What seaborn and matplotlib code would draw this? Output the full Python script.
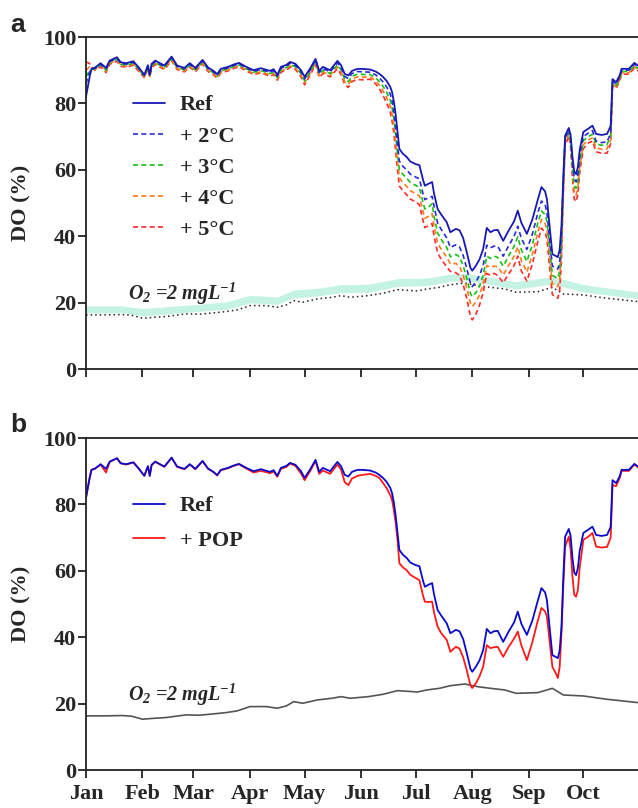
import matplotlib
matplotlib.use("Agg")
import matplotlib.pyplot as plt
import seaborn as sns
import pandas as pd

# day of year (0 = 1 Jan)
days = [0, 2, 3, 5, 8, 11, 13, 17, 19, 22,
        26, 29, 32, 34, 35, 36, 38, 43, 47, 50,
        54, 57, 60, 64, 67, 70, 72, 74, 78, 81,
        84, 88, 92, 96, 101, 103, 105, 107, 110, 112,
        115, 118, 120, 123, 126, 128, 130, 134, 138, 140,
        142, 144, 146, 149, 152, 156, 159, 161, 163, 165,
        167, 168, 169, 170, 171, 172, 174, 176, 178, 181,
        183, 185, 186, 188, 190, 191, 193, 195, 198, 200,
        203, 205, 207, 209, 211, 212, 214, 216, 218, 220,
        222, 224, 226, 229, 232, 235, 237, 239, 242, 245,
        248, 250, 252, 253, 255, 256, 258, 259, 260, 261,
        262, 263, 265, 266, 267, 268, 269, 270, 271, 273,
        276, 278, 280, 283, 286, 288, 289, 291, 293, 294,
        298, 301, 303]

ref = [82.0, 88.0, 90.4, 90.8, 92.1, 90.7, 92.9, 93.9, 92.4, 92.1,
       92.7, 90.8, 88.6, 91.5, 88.6, 91.9, 92.9, 91.4, 94.1, 91.4,
       90.7, 92.1, 90.7, 93.1, 90.8, 89.8, 88.8, 90.4, 91.0, 91.7,
       92.2, 91.0, 90.0, 90.6, 89.8, 90.3, 88.6, 91.0, 91.6, 92.5,
       91.9, 90.0, 88.0, 90.5, 93.4, 89.8, 91.0, 90.0, 92.8, 91.5,
       88.9, 88.4, 89.8, 90.4, 90.4, 90.2, 89.6, 88.9, 88.0, 86.8,
       85.0, 83.4, 80.5, 76.5, 71.4, 66.3, 64.8, 63.9, 62.5, 61.7,
       61.4, 57.0, 55.2, 55.8, 56.3, 53.0, 48.2, 46.5, 44.2, 41.2,
       42.2, 41.8, 39.5, 35.2, 30.5, 29.6, 31.1, 33.0, 36.1, 42.5,
       41.2, 41.8, 41.9, 38.6, 41.7, 44.5, 47.7, 44.0, 40.7, 45.0,
       51.0, 54.8, 53.5, 51.2, 40.0, 34.6, 34.0, 33.7, 36.0, 43.2,
       58.0, 70.3, 72.6, 70.5, 64.0, 59.5, 58.7, 60.8, 66.0, 71.4,
       72.5, 73.3, 70.8, 70.5, 70.8, 73.2, 87.3, 86.4, 88.5, 90.4,
       90.4, 92.2, 91.4]

pop = [82.0, 88.0, 90.4, 90.8, 92.0, 89.6, 92.8, 93.9, 92.4, 92.0,
       92.6, 90.7, 88.6, 91.4, 88.6, 91.8, 92.8, 91.3, 94.0, 91.3,
       90.6, 92.0, 90.6, 93.0, 90.7, 89.7, 88.7, 90.3, 90.9, 91.6,
       92.1, 90.8, 89.6, 90.1, 89.4, 89.9, 88.3, 90.7, 91.3, 92.3,
       91.6, 89.3, 87.3, 90.0, 93.1, 89.2, 90.2, 89.2, 92.0, 90.5,
       86.7, 85.8, 87.8, 88.6, 88.9, 89.2, 88.6, 88.0, 86.5, 84.9,
       82.8, 81.3, 78.2, 74.5, 69.3, 62.3, 61.0, 60.2, 58.8, 57.8,
       57.2, 52.5, 50.7, 50.6, 50.7, 47.5, 43.2, 41.2, 39.2, 35.6,
       37.1, 36.6, 34.0, 30.1, 25.5, 24.7, 26.1, 28.2, 31.1, 37.6,
       36.7, 37.0, 37.1, 34.1, 37.1, 39.6, 41.7, 37.5, 33.1, 38.5,
       45.0, 48.8, 47.8, 46.2, 36.0, 31.1, 29.0, 27.7, 31.0, 41.2,
       55.5, 67.3, 70.3, 66.5, 58.5, 52.8, 52.2, 54.2, 61.0, 69.3,
       70.4, 71.4, 67.3, 67.0, 67.2, 70.0, 85.8, 85.5, 88.0, 90.1,
       90.1, 92.0, 91.2]

plus2 = [86.0, 89.5, 90.3, 90.6, 91.8, 90.3, 92.6, 93.6, 92.1, 91.8,
         92.4, 90.5, 88.4, 91.2, 88.5, 91.6, 92.6, 91.1, 93.8, 91.1,
         90.4, 91.8, 90.4, 92.8, 90.5, 89.5, 88.5, 90.1, 90.7, 91.4,
         91.9, 90.7, 89.7, 90.2, 89.4, 89.9, 88.2, 90.6, 91.2, 92.1,
         91.4, 89.5, 87.4, 90.0, 93.0, 89.3, 90.5, 89.5, 92.2, 90.8,
         88.1, 87.5, 89.0, 89.6, 89.5, 89.4, 88.6, 87.7, 86.5, 85.0,
         82.8, 80.8, 77.5, 73.0, 67.5, 62.6, 61.0, 60.0, 58.7, 57.8,
         57.3, 52.8, 51.0, 51.6, 52.0, 49.2, 44.0, 42.0, 39.5, 36.6,
         37.4, 36.8, 34.3, 30.3, 25.8, 24.8, 26.2, 28.2, 31.2, 37.3,
         36.5, 37.0, 37.0, 34.0, 37.1, 40.0, 43.0, 39.3, 36.0, 40.6,
         47.0, 50.6, 49.5, 47.2, 36.2, 31.0, 30.4, 30.1, 32.2, 40.4,
         56.4, 69.6, 72.0, 69.6, 62.4, 57.2, 56.4, 58.6, 64.3, 70.0,
         71.2, 71.8, 68.6, 68.2, 68.4, 71.0, 86.6, 85.8, 88.0, 90.0,
         90.0, 91.8, 91.0]

plus3 = [88.0, 90.0, 90.2, 90.4, 91.6, 90.0, 92.4, 93.3, 91.8, 91.5,
         92.1, 90.2, 88.2, 91.0, 88.3, 91.3, 92.3, 90.8, 93.5, 90.8,
         90.1, 91.5, 90.1, 92.5, 90.2, 89.2, 88.2, 89.8, 90.4, 91.1,
         91.6, 90.4, 89.4, 89.9, 89.0, 89.5, 87.8, 90.2, 90.8, 91.7,
         91.0, 89.0, 86.8, 89.5, 92.6, 88.8, 90.0, 89.0, 91.6, 90.1,
         87.3, 86.6, 88.2, 88.8, 88.7, 88.7, 87.7, 86.6, 85.2, 83.4,
         81.0, 78.8, 75.3, 70.5, 65.0, 60.1, 58.6, 57.5, 56.2, 55.3,
         54.7, 50.1, 48.2, 48.8, 49.8, 46.2, 41.0, 39.0, 36.6, 33.8,
         34.5, 33.8, 31.2, 27.3, 22.8, 21.8, 23.0, 25.0, 28.2, 34.0,
         33.3, 34.0, 33.6, 31.0, 34.0, 37.0, 39.8, 35.8, 32.4, 37.4,
         44.0, 47.6, 46.5, 44.4, 33.4, 28.2, 27.6, 27.3, 29.5, 38.0,
         55.0, 68.8, 71.4, 68.7, 60.8, 55.2, 54.4, 56.6, 62.6, 68.8,
         70.1, 70.7, 67.8, 67.4, 67.6, 70.2, 86.2, 85.4, 87.6, 89.6,
         89.6, 91.4, 90.6]

plus4 = [90.0, 91.0, 90.6, 90.2, 91.3, 89.7, 92.1, 93.0, 91.5, 91.2,
         91.8, 89.9, 88.0, 90.7, 88.1, 91.0, 92.0, 90.5, 93.2, 90.5,
         89.8, 91.2, 89.8, 92.2, 89.9, 88.9, 87.9, 89.5, 90.1, 90.8,
         91.3, 90.1, 89.0, 89.5, 88.6, 89.1, 87.4, 89.8, 90.4, 91.3,
         90.6, 88.5, 86.2, 89.0, 92.2, 88.3, 89.5, 88.5, 91.0, 89.4,
         86.5, 85.7, 87.4, 88.0, 87.9, 88.0, 86.8, 85.5, 83.8, 81.8,
         79.2, 76.8, 73.1, 68.0, 62.5, 57.6, 56.1, 55.0, 53.7, 52.8,
         52.1, 47.4, 45.4, 46.0, 46.8, 43.2, 38.0, 36.0, 33.7, 31.6,
         31.8, 31.0, 28.3, 24.4, 19.8, 18.8, 20.2, 22.3, 25.6, 31.2,
         30.6, 31.0, 30.8, 28.3, 31.2, 34.0, 36.8, 32.6, 29.2, 34.5,
         41.2, 45.0, 43.8, 41.8, 30.8, 25.6, 25.0, 24.8, 27.0, 35.6,
         53.6, 68.0, 70.8, 67.8, 59.2, 53.2, 52.4, 54.6, 60.9, 67.6,
         69.1, 69.6, 66.6, 66.2, 66.3, 69.0, 85.8, 85.0, 87.2, 89.2,
         89.2, 91.0, 90.2]

plus5 = [92.5, 92.0, 91.0, 90.0, 91.0, 89.3, 91.8, 92.7, 91.2, 90.9,
         91.5, 89.6, 87.8, 90.4, 87.9, 90.7, 91.7, 90.2, 92.9, 90.2,
         89.5, 90.9, 89.5, 91.9, 89.6, 88.6, 87.6, 89.2, 89.8, 90.5,
         91.0, 89.8, 88.7, 89.2, 88.2, 88.7, 87.0, 89.4, 90.0, 90.9,
         90.2, 88.0, 85.6, 88.5, 91.8, 87.8, 89.0, 88.0, 90.4, 88.7,
         85.7, 84.8, 86.6, 87.2, 87.1, 87.3, 85.9, 84.4, 82.4, 80.2,
         77.4, 74.8, 70.9, 65.5, 60.0, 55.1, 53.6, 52.5, 51.2, 50.3,
         49.5, 44.7, 42.6, 43.2, 43.8, 40.2, 35.0, 33.0, 30.8, 29.4,
         29.0, 28.2, 25.5, 21.3, 15.8, 14.8, 16.5, 19.2, 23.0, 28.8,
         28.2, 28.8, 28.2, 26.0, 28.6, 31.2, 34.0, 29.5, 26.5, 31.6,
         38.4, 42.4, 41.2, 39.2, 27.6, 22.4, 21.6, 21.3, 23.6, 33.0,
         52.0, 67.2, 70.2, 66.9, 57.6, 51.2, 50.4, 52.6, 59.2, 66.4,
         68.2, 68.6, 65.4, 65.0, 65.0, 67.8, 85.2, 84.6, 86.8, 88.8,
         88.8, 90.6, 89.8]

# O2 = 2 mg/L expressed as DO saturation
thr_days = [0, 10, 20, 25, 31, 38, 44, 48, 55, 62,
            70, 77, 83, 90, 99, 105, 110, 114, 119, 127,
            135, 140, 145, 155, 163, 171, 182, 187, 194, 200,
            208, 215, 222, 230, 236, 248, 256, 262, 273, 286,
            303]
thr = [16.3, 16.3, 16.4, 16.2, 15.3, 15.6, 15.8, 16.1, 16.6, 16.5,
       16.9, 17.3, 17.8, 19.1, 19.1, 18.6, 19.3, 20.6, 20.1, 21.1,
       21.6, 22.1, 21.6, 22.1, 22.8, 23.9, 23.5, 24.1, 24.6, 25.4,
       25.9, 25.1, 24.6, 24.1, 23.1, 23.3, 24.6, 22.6, 22.3, 21.3,
       20.3]

# threshold range under the warming scenarios (shaded band, panel a)
band_days = [0, 20, 31, 45, 60, 77, 90, 105, 114, 127,
             140, 155, 171, 187, 200, 208, 222, 236, 256, 273,
             303]
band_lo = [16.9, 17.0, 16.0, 16.6, 17.3, 18.0, 19.9, 19.5, 21.4, 22.0,
           23.0, 23.1, 24.9, 25.1, 26.4, 26.8, 25.5, 24.1, 25.6, 23.2,
           21.2]
band_hi = [19.0, 19.0, 18.2, 18.8, 19.4, 20.2, 22.2, 21.7, 23.8, 24.3,
           25.4, 25.5, 27.2, 27.4, 28.6, 28.8, 27.6, 26.3, 27.8, 25.4,
           23.2]

month_days = [0, 31, 59, 90, 120, 151, 181, 212, 243, 273]
month_labels = ["Jan", "Feb", "Mar", "Apr", "May", "Jun", "Jul", "Aug", "Sep", "Oct"]

sns.set_theme(style="ticks")
plt.rcParams["font.family"] = ["Liberation Serif", "DejaVu Serif"]
plt.rcParams["font.weight"] = "bold"
plt.rcParams["mathtext.fontset"] = "custom"
plt.rcParams["mathtext.rm"] = "Liberation Serif:italic:bold"
plt.rcParams["mathtext.it"] = "Liberation Serif:italic:bold"
plt.rcParams["mathtext.bf"] = "Liberation Serif:italic:bold"

FS = 16
DASH = (0, (3, 2))


def style_axes(ax, show_labels):
    ax.set_xlim(0, 303)
    ax.set_ylim(0, 100)
    ax.set_yticks([0, 20, 40, 60, 80, 100])
    ax.set_xticks(month_days)
    ax.set_xticklabels(month_labels if show_labels else [])
    for side in ["left", "bottom", "top"]:
        ax.spines[side].set_linewidth(1.3)
        ax.spines[side].set_color("#222222")
    ax.spines["right"].set_visible(False)
    ax.tick_params(axis="both", direction="out", length=6, width=1.3,
                   color="#222222", labelsize=FS)
    ax.tick_params(axis="y", pad=1)
    ax.tick_params(axis="x", pad=4)
    for lab in ax.get_xticklabels() + ax.get_yticklabels():
        lab.set_fontweight("bold")
    ax.set_xlabel("")
    ax.set_ylabel("DO (%)", fontsize=FS, fontweight="bold")
    ax.yaxis.set_label_coords(-0.098, 0.5)
    ax.text(23, 20.8, r"$O_2$ =2 mgL$^{-1}$", fontsize=14.5,
            fontstyle="italic", fontweight="bold")


def add_legend(ax, handles, labels, spacing):
    ax.legend(handles, labels, loc="upper left",
              bbox_to_anchor=(0.085, 0.826), frameon=False, fontsize=FS,
              handlelength=1.45, handletextpad=0.65, labelspacing=spacing,
              borderpad=0, borderaxespad=0)


fig = plt.figure(figsize=(6.38, 8.08), dpi=100)
ax_a = fig.add_axes([86 / 638, 1 - 369 / 808, 552 / 638, 332 / 808])
ax_b = fig.add_axes([86 / 638, 1 - 770 / 808, 552 / 638, 332 / 808])

# ---- panel a: warming scenarios
ax_a.fill_between(band_days, band_lo, band_hi, color="#c4f2e3", lw=0)
sns.lineplot(x=thr_days, y=thr, ax=ax_a, color="#222222", lw=1.1,
             linestyle=(0, (1, 2)))

scen = [("+ 5°C", plus5, "#ff2a2a"), ("+ 4°C", plus4, "#ff7a1a"),
        ("+ 3°C", plus3, "#18c018"), ("+ 2°C", plus2, "#2a2ad8")]
for lab, vals, col in scen:
    sns.lineplot(x=days, y=vals, ax=ax_a, color=col, lw=1.2,
                 linestyle=DASH, label=lab)
sns.lineplot(x=days, y=ref, ax=ax_a, color="#1818b4", lw=1.3, label="Ref")

h, l = ax_a.get_legend_handles_labels()
order = [l.index(n) for n in ["Ref", "+ 2°C", "+ 3°C", "+ 4°C", "+ 5°C"]]
add_legend(ax_a, [h[i] for i in order], [l[i] for i in order], 0.48)
style_axes(ax_a, False)

# ---- panel b: POP scenario
sns.lineplot(x=thr_days, y=thr, ax=ax_b, color="#555555", lw=1.2)
sns.lineplot(x=days, y=pop, ax=ax_b, color="#ff1a1a", lw=1.3, label="+ POP")
sns.lineplot(x=days, y=ref, ax=ax_b, color="#0a0acc", lw=1.3, label="Ref")
h, l = ax_b.get_legend_handles_labels()
add_legend(ax_b, [h[1], h[0]], [l[1], l[0]], 0.62)
style_axes(ax_b, True)

fig.text(10 / 638, 1 - 32 / 808, "a", fontsize=19, fontweight="bold",
         family=["Liberation Sans", "DejaVu Sans"])
fig.text(10 / 638, 1 - 432 / 808, "b", fontsize=19, fontweight="bold",
         family=["Liberation Sans", "DejaVu Sans"])

fig.savefig("out.png", dpi=100)
